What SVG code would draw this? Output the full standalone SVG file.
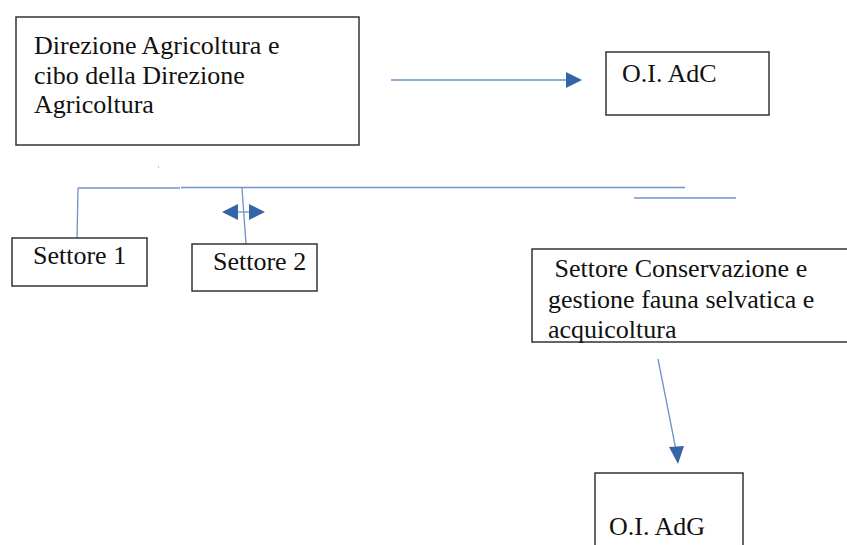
<svg xmlns="http://www.w3.org/2000/svg" width="847" height="545" viewBox="0 0 847 545">
<style>
.box{fill:#fff;stroke:#333;stroke-width:1.5}
.t{font-family:"Liberation Serif","Times New Roman",serif;font-size:26px;fill:#111}
.ln{stroke:#6e93c9;stroke-width:1.3;fill:none}
.ah{fill:#3565a8}
</style>
<rect width="847" height="545" fill="#fff"/>
<g id="connectors">
<line class="ln" x1="391" y1="80" x2="568" y2="80"/>
<polygon class="ah" points="582,80 566,72 566,88"/>
<line class="ln" x1="78" y1="188" x2="180" y2="188"/>
<line class="ln" x1="181" y1="187.5" x2="685" y2="187.5"/>
<line class="ln" x1="634" y1="198" x2="736" y2="198"/>
<line class="ln" x1="78" y1="188" x2="77" y2="240"/>
<line class="ln" x1="242" y1="188" x2="246" y2="244"/>
<line class="ln" x1="236" y1="212" x2="251" y2="212"/>
<polygon class="ah" points="222,212 238,204 238,220"/>
<polygon class="ah" points="265,212 249,204 249,220"/>
<line class="ln" x1="658" y1="359" x2="676" y2="450"/>
<polygon class="ah" points="678,464 669,447 684,446"/>
<rect x="158" y="166.5" width="1" height="1" fill="#6e93c9"/>
</g>
<g id="direzione">
<rect class="box" x="16" y="17" width="343" height="128"/>
<text class="t" x="34" y="54">Direzione Agricoltura e</text>
<text class="t" x="34" y="84">cibo della Direzione</text>
<text class="t" x="34" y="113">Agricoltura</text>
</g>
<g id="oi-adc">
<rect class="box" x="606" y="52" width="163" height="63"/>
<text class="t" x="622" y="82">O.I. AdC</text>
</g>
<g id="settore1">
<rect class="box" x="12" y="238" width="135" height="48"/>
<text class="t" x="33" y="264">Settore 1</text>
</g>
<g id="settore2">
<rect class="box" x="192" y="244" width="125" height="47"/>
<text class="t" x="213" y="270">Settore 2</text>
</g>
<g id="settore-conservazione">
<rect class="box" x="532" y="249" width="330" height="93"/>
<text class="t" x="548" y="277" xml:space="preserve"> Settore Conservazione e</text>
<text class="t" x="548" y="308">gestione fauna selvatica e</text>
<text class="t" x="548" y="338">acquicoltura</text>
</g>
<g id="oi-adg">
<rect class="box" x="595" y="473" width="148" height="90"/>
<text class="t" x="609" y="535">O.I. AdG</text>
</g>
</svg>
